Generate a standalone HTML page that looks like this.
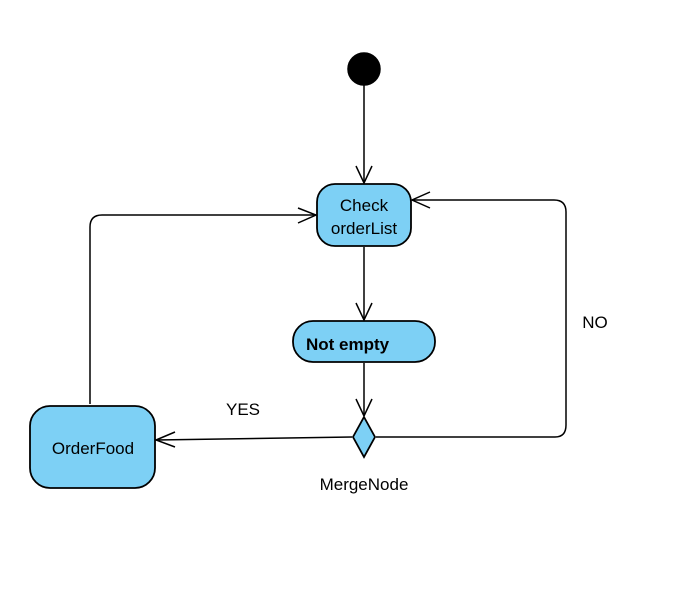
<!DOCTYPE html>
<html><head><style>body{margin:0;background:#fff}</style></head><body>
<svg width="700" height="596" xmlns="http://www.w3.org/2000/svg" font-family="Liberation Sans, sans-serif">
<rect width="700" height="596" fill="#fff"/>
<g fill="none" stroke="#000" stroke-width="1.5">
<circle cx="364" cy="69" r="16" fill="#000"/>
<path d="M364 85 V183"/><path d="M356 166 L364 183 L372 166"/>
<path d="M364 247 V320"/><path d="M356 303 L364 320 L372 303"/>
<path d="M364 363 V416"/><path d="M356 399 L364 416 L372 399"/>
<path d="M352 437 L156 440"/><path d="M175 432 L156 440 L175 447"/>
<path d="M90 404 V227 Q90 215 102 215 H316"/><path d="M298 208 L316 215 L298 223"/>
<path d="M376 437 H555 Q566 437 566 425 V212 Q566 200 554 200 H412"/><path d="M430 192 L412 200 L430 208"/>
</g>
<g stroke="#000" stroke-width="1.8" fill="#7dd0f5">
<rect x="317" y="184" width="94" height="62" rx="18"/>
<rect x="293" y="321" width="142" height="41" rx="20"/>
<rect x="30" y="406" width="125" height="82" rx="20"/>
<path d="M364 417 L375 437 L364 457 L353 437 Z"/>
</g>
<g font-size="17" fill="#000" text-anchor="middle">
<text x="364" y="211">Check</text>
<text x="364" y="234">orderList</text>
<text x="306" y="350" font-weight="bold" text-anchor="start">Not empty</text>
<text x="93" y="454">OrderFood</text>
<text x="243" y="415">YES</text>
<text x="595" y="328">NO</text>
<text x="364" y="490">MergeNode</text>
</g>
</svg>
</body></html>
